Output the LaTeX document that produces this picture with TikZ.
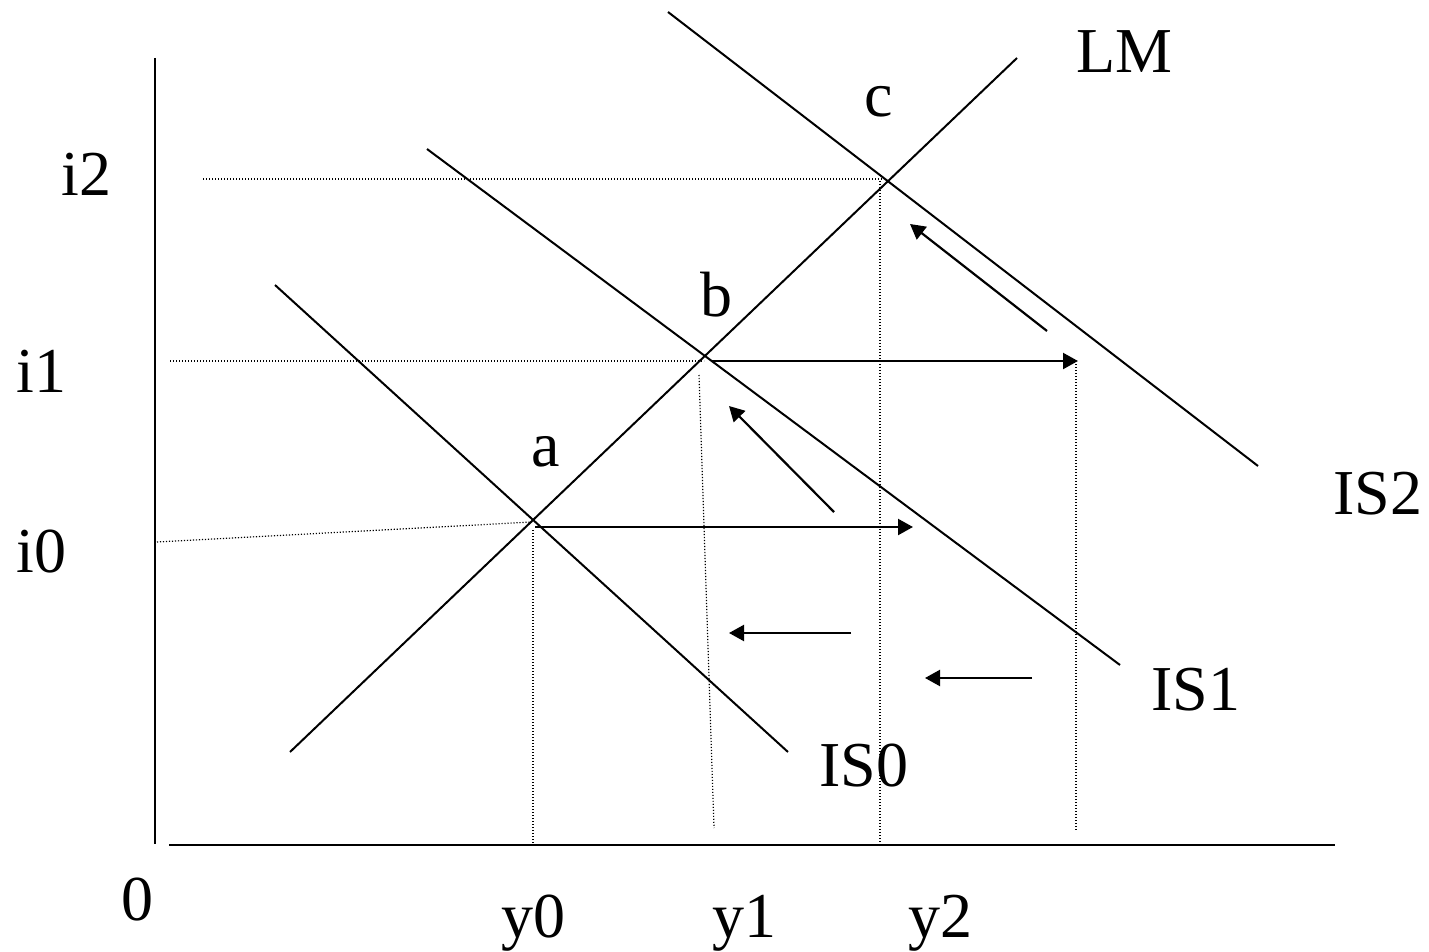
\documentclass[tikz,border=0pt]{standalone}
\usepackage{fontspec}
\setmainfont{Liberation Serif}
\usetikzlibrary{arrows.meta}
\begin{document}
\begin{tikzpicture}[x=0.5pt,y=-0.5pt,
  curve/.style={line width=1pt},
  axis/.style={line width=1.2pt},
  guide/.style={line width=0.6pt,dash pattern=on 0.6pt off 0.9pt},
  move/.style={line width=1.1pt,-{Triangle[length=7.5pt,width=8pt]}},
  lbl/.style={inner sep=0pt,font=\fontsize{32pt}{36pt}\selectfont}]
\useasboundingbox (0,0) rectangle (1429,952);
% key points
\coordinate (a) at (532,522);
\coordinate (b) at (706,357);
\coordinate (c) at (887,182);
% axes
\coordinate (yTop) at (155,58);
\coordinate (yBot) at (155,844);
\coordinate (xL) at (169,845);
\coordinate (xR) at (1335,845);
\draw[axis] (yTop) -- (yBot);
\draw[axis] (xL) -- (xR);
% curves
\coordinate (LM1) at (290,752); \coordinate (LM2) at (1017,58);
\coordinate (IS01) at (275,285); \coordinate (IS02) at (788,752);
\coordinate (IS11) at (427,149); \coordinate (IS12) at (1120,665);
\coordinate (IS21) at (668,12); \coordinate (IS22) at (1258,466);
\draw[curve] (LM1) -- (LM2);
\draw[curve] (IS01) -- (IS02);
\draw[curve] (IS11) -- (IS12);
\draw[curve] (IS21) -- (IS22);
% guides
\coordinate (g0) at (157,542);
\coordinate (g1) at (170,361);
\coordinate (g1e) at (704,361);
\coordinate (g2) at (203,179);
\coordinate (g2e) at (884,179);
\coordinate (v0t) at (533,530); \coordinate (v0b) at (533,843);
\coordinate (v1t) at (699,375); \coordinate (v1b) at (714,828);
\coordinate (v2t) at (880,181); \coordinate (v2b) at (880,843);
\coordinate (v3t) at (1076,364); \coordinate (v3b) at (1076,830);
\draw[guide] (g0) -- (a);
\draw[guide] (g1) -- (g1e);
\draw[guide] (g2) -- (g2e);
\draw[guide] (v0t) -- (v0b);
\draw[guide] (v1t) -- (v1b);
\draw[guide] (v2t) -- (v2b);
\draw[guide] (v3t) -- (v3b);
% arrows
\coordinate (a1s) at (535,527); \coordinate (a1e) at (913,527);
\coordinate (b1s) at (711,361); \coordinate (b1e) at (1078,361);
\coordinate (d1s) at (834,512); \coordinate (d1e) at (729,406);
\coordinate (d2s) at (1047,331); \coordinate (d2e) at (910,224);
\coordinate (l1s) at (851,633); \coordinate (l1e) at (729,633);
\coordinate (l2s) at (1032,678); \coordinate (l2e) at (925,678);
\draw[move] (a1s) -- (a1e);
\draw[move] (b1s) -- (b1e);
\draw[move] (d1s) -- (d1e);
\draw[move] (d2s) -- (d2e);
\draw[move] (l1s) -- (l1e);
\draw[move] (l2s) -- (l2e);
% labels
\node[lbl,anchor=base west] (tLM) at (1076,73) {LM};
\node[lbl,anchor=base] (tc) at (879,117) {c};
\node[lbl,anchor=base] (tb) at (716,316) {b};
\node[lbl,anchor=base west] (ta) at (531,466) {a};
\node[lbl,anchor=base west] (ti2) at (61,196) {i2};
\node[lbl,anchor=base west] (ti1) at (16,392) {i1};
\node[lbl,anchor=base west] (ti0) at (16,572) {i0};
\node[lbl,anchor=base west] (tIS2) at (1333,514) {IS2};
\node[lbl,anchor=base west] (tIS1) at (1151,710) {IS1};
\node[lbl,anchor=base west] (tIS0) at (819,786) {IS0};
\node[lbl,anchor=base west] (t0) at (121,920) {0};
\node[lbl,anchor=base west] (ty0) at (501,937) {y0};
\node[lbl,anchor=base west] (ty1) at (712,937) {y1};
\node[lbl,anchor=base west] (ty2) at (908,937) {y2};
\end{tikzpicture}
\end{document}
